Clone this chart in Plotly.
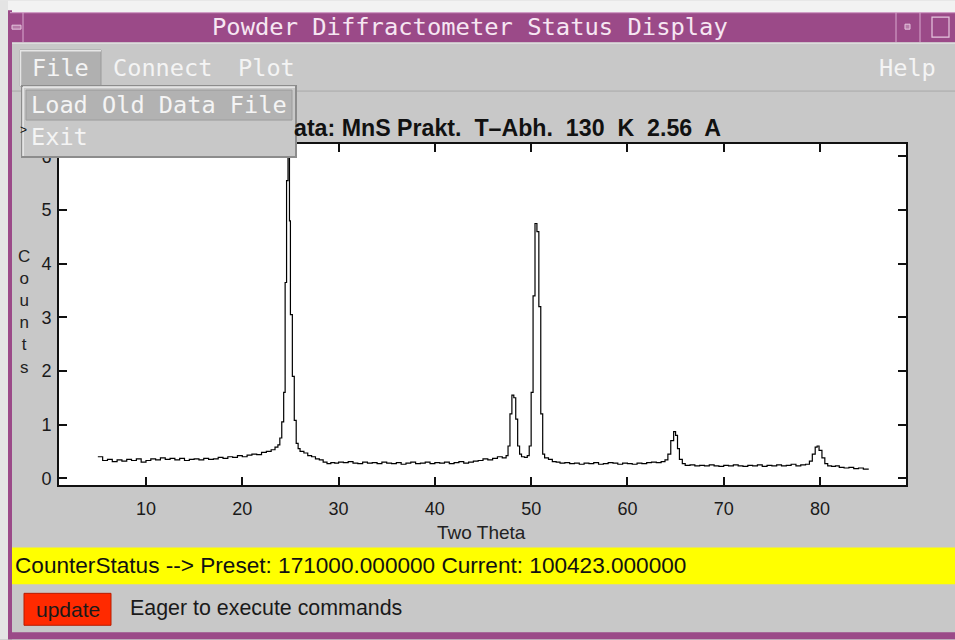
import plotly.graph_objects as go

# ---------------- data ----------------
two_theta = [
    5.0, 5.5, 6.0, 6.5, 7.0, 7.5, 8.0, 8.5, 9.0, 9.5,
    10.0, 10.5, 11.0, 11.5, 12.0, 12.5, 13.0, 13.5, 14.0, 14.5,
    15.0, 15.5, 16.0, 16.5, 17.0, 17.5, 18.0, 18.5, 19.0, 19.5,
    20.0, 20.5, 21.0, 21.5, 22.0, 22.5, 23.0, 23.4, 23.7, 23.9,
    24.1, 24.3, 24.45, 24.6, 24.75, 24.9, 25.0, 25.2, 25.4, 25.6,
    25.8, 26.0, 26.4, 26.8, 27.2, 27.6, 28.0, 28.4, 28.8, 29.2,
    29.6, 30.0, 30.5, 31.0, 31.5, 32.0, 32.5, 33.0, 33.5, 34.0,
    34.5, 35.0, 35.5, 36.0, 36.5, 37.0, 37.5, 38.0, 38.5, 39.0,
    39.5, 40.0, 40.5, 41.0, 41.5, 42.0, 42.5, 43.0, 43.5, 44.0,
    44.5, 45.0, 45.5, 46.0, 46.5, 47.0, 47.4, 47.6, 47.8, 48.0,
    48.2, 48.4, 48.6, 48.8, 49.0, 49.3, 49.6, 49.8, 50.0, 50.2,
    50.4, 50.6, 50.8, 51.0, 51.2, 51.4, 51.8, 52.2, 52.6, 53.0,
    53.5, 54.0, 54.5, 55.0, 55.5, 56.0, 56.5, 57.0, 57.5, 58.0,
    58.5, 59.0, 59.5, 60.0, 60.5, 61.0, 61.5, 62.0, 62.5, 63.0,
    63.5, 63.9, 64.2, 64.5, 64.8, 65.0, 65.2, 65.4, 65.7, 66.0,
    66.5, 67.0, 67.5, 68.0, 68.5, 69.0, 69.5, 70.0, 70.5, 71.0,
    71.5, 72.0, 72.5, 73.0, 73.5, 74.0, 74.5, 75.0, 75.5, 76.0,
    76.5, 77.0, 77.5, 78.0, 78.5, 78.9, 79.2, 79.5, 79.7, 79.9,
    80.2, 80.5, 80.8, 81.2, 81.6, 82.0, 82.5, 83.0, 83.5, 84.0,
    84.5, 85.0,
]
counts = [
    0.40, 0.33, 0.35, 0.31, 0.34, 0.32, 0.35, 0.33, 0.36, 0.30,
    0.33, 0.36, 0.34, 0.38, 0.35, 0.37, 0.34, 0.37, 0.33, 0.35,
    0.36, 0.34, 0.37, 0.35, 0.36, 0.39, 0.37, 0.40, 0.39, 0.42,
    0.40, 0.43, 0.45, 0.44, 0.48, 0.50, 0.53, 0.58, 0.62, 0.75,
    1.05, 1.60, 3.65, 5.55, 6.00, 4.80, 3.05, 1.90, 1.08, 0.65,
    0.55, 0.50, 0.47, 0.42, 0.40, 0.36, 0.34, 0.30, 0.27, 0.29,
    0.28, 0.30, 0.29, 0.31, 0.28, 0.27, 0.30, 0.28, 0.29, 0.27,
    0.30, 0.28, 0.27, 0.29, 0.26, 0.28, 0.30, 0.27, 0.28, 0.30,
    0.27, 0.29, 0.28, 0.30, 0.27, 0.29, 0.31, 0.28, 0.30, 0.32,
    0.33, 0.36, 0.34, 0.37, 0.40, 0.38, 0.42, 0.60, 1.20, 1.55,
    1.50, 1.10, 0.60, 0.45, 0.40, 0.39, 0.42, 0.60, 1.60, 3.40,
    4.75, 4.60, 3.20, 1.20, 0.45, 0.38, 0.35, 0.31, 0.30, 0.28,
    0.29, 0.27, 0.28, 0.26, 0.28, 0.27, 0.29, 0.26, 0.27, 0.29,
    0.28, 0.26, 0.28, 0.27, 0.26, 0.28, 0.27, 0.29, 0.30, 0.29,
    0.31, 0.34, 0.45, 0.70, 0.87, 0.80, 0.55, 0.35, 0.27, 0.24,
    0.25, 0.23, 0.24, 0.23, 0.25, 0.23, 0.22, 0.24, 0.23, 0.25,
    0.23, 0.22, 0.24, 0.23, 0.25, 0.22, 0.24, 0.23, 0.25, 0.23,
    0.24, 0.26, 0.23, 0.25, 0.26, 0.32, 0.45, 0.58, 0.60, 0.52,
    0.38, 0.27, 0.23, 0.22, 0.23, 0.20, 0.19, 0.20, 0.18, 0.19,
    0.17, 0.18,
]
x_ticks = [10, 20, 30, 40, 50, 60, 70, 80]
y_ticks = [0, 1, 2, 3, 4, 5, 6]

window_title = "Powder Diffractometer Status Display"
menu_items = ["File", "Connect", "Plot"]
help_item = "Help"
dropdown_items = ["Load Old Data File", "Exit"]
plot_title = "ata: MnS Prakt.\u00a0 T\u2013Abh.\u00a0 130\u00a0 K\u00a0 2.56\u00a0 A"
y_title_letters = list("Counts")
x_title = "Two Theta"
status_text = "CounterStatus --> Preset: 171000.000000 Current: 100423.000000"
button_text = "update"
message_text = "Eager to execute commands"

# ---------------- geometry helpers (pixels -> paper) ----------------
W, H = 955, 640
PL, PR, PT, PB = 59, 906, 144, 485.5


def px(x):
    return (x - PL) / (PR - PL)


def py(y):
    return (PB - y) / (PB - PT)


GRAY = "#c8c8c8"
PURPLE = "#9b4a88"
MONO = "DejaVu Sans Mono"
SANS = "Liberation Sans"

fig = go.Figure()
fig.add_trace(go.Scatter(
    x=two_theta, y=counts, mode="lines",
    line=dict(color="black", width=1.2, shape="hv"),
    hoverinfo="skip", showlegend=False,
))

shapes = []


def rect(x0, y0, x1, y1, fill, line_color=None, lw=0, layer="above"):
    shapes.append(dict(
        type="rect", xref="paper", yref="paper",
        x0=px(x0), x1=px(x1), y0=py(y1), y1=py(y0),
        fillcolor=fill, layer=layer,
        line=dict(width=lw, color=line_color or fill),
    ))


def hline(x0, x1, y, color, lw=1):
    shapes.append(dict(type="line", xref="paper", yref="paper",
                       x0=px(x0), x1=px(x1), y0=py(y), y1=py(y),
                       line=dict(color=color, width=lw), layer="above"))


def vline(x, y0, y1, color, lw=1):
    shapes.append(dict(type="line", xref="paper", yref="paper",
                       x0=px(x), x1=px(x), y0=py(y0), y1=py(y1),
                       line=dict(color=color, width=lw), layer="above"))


# window frame
rect(0, 0, 955, 12, "#f2f2f2", layer="below")
rect(0, 0, 8, 640, "#e4e4e4", layer="below")
rect(8, 10, 12, 640, PURPLE, layer="below")
rect(8, 633, 955, 640, PURPLE, layer="below")
# title bar
rect(10, 12, 955, 42, PURPLE, layer="below")
hline(10, 955, 12.5, "#d9a9cf")
vline(23, 12, 42, "#d9a9cf")
vline(896, 12, 42, "#d9a9cf")
vline(920, 12, 42, "#d9a9cf")
rect(12, 25, 21, 29, "#b77aa8", "#e6c6de", 1)
rect(905, 24, 910, 29, "#b77aa8", "#e6c6de", 1)
rect(932, 17, 949, 37, PURPLE, "#e6c6de", 1.2)
# menubar
hline(12, 955, 43, "#e8e8e8")
hline(12, 955, 91, "#a8a8a8")
rect(20, 50, 101, 86, "#b0b0b0", "#9a9a9a", 1)
hline(20, 101, 50.5, "#e6e6e6", 1.5)
vline(20.5, 50, 86, "#e6e6e6", 1.5)
# dropdown menu
rect(22, 86, 296, 157, GRAY, "#8c8c8c", 2)
hline(23, 295, 87, "#eeeeee", 1.5)
vline(23, 87, 156, "#eeeeee", 1.5)
rect(26, 90, 292, 120, "#b2b2b2", "#9c9c9c", 1)
# status bar
rect(12, 548, 955, 585, "#ffff00", layer="below")
# update button
rect(24, 594, 111, 626, "#ff2a00", "#b81c00", 1)

ann = []


def text(x, y, s, size, color="#111111", family=SANS, xanchor="left", yanchor="middle"):
    ann.append(dict(xref="paper", yref="paper", x=px(x), y=py(y), text=s,
                    showarrow=False, xanchor=xanchor, yanchor=yanchor,
                    font=dict(family=family, size=size, color=color)))


text(470, 27, window_title, 23.8, "#f6e6f2", MONO, "center")
text(30, 68, menu_items[0], 23.6, "#f4f4f4", MONO)
text(111, 68, menu_items[1], 23.6, "#f4f4f4", MONO)
text(236, 68, menu_items[2], 23.6, "#f4f4f4", MONO)
text(938, 68, help_item, 23.6, "#f4f4f4", MONO, "right")
text(29, 105, dropdown_items[0], 23.6, "#f4f4f4", MONO)
text(29, 137, dropdown_items[1], 23.6, "#f4f4f4", MONO)
text(18, 130, ">", 12, "#111111")
text(292, 128, "<b>" + plot_title + "</b>", 23.2, "#111111")
text(24, 312, "<br>".join(y_title_letters), 17, "#222222", SANS, "center")
text(481.5, 533, x_title, 19, "#222222", SANS, "center")
text(13, 566, status_text, 22.6, "#111111")
text(67.5, 610, button_text, 21, "#1a1a1a", SANS, "center")
text(128, 609, message_text, 21.4, "#1a1a1a")

axis_common = dict(
    ticks="inside", ticklen=8, tickwidth=1.5, tickcolor="#111111",
    showline=True, linewidth=2, linecolor="#111111", mirror="ticks",
    showgrid=False, zeroline=False,
    tickfont=dict(family=SANS, size=18, color="#1a1a1a"),
)

fig.update_layout(
    width=W, height=H, autosize=False,
    margin=dict(l=PL, r=W - PR, t=PT, b=H - PB, pad=0),
    paper_bgcolor=GRAY, plot_bgcolor="white",
    xaxis=dict(range=[0.966, 88.93], tickvals=x_ticks, ticklabelstandoff=6, **axis_common),
    yaxis=dict(range=[-0.127, 6.233], tickvals=y_ticks, ticklabelstandoff=2, **axis_common),
    shapes=shapes, annotations=ann, showlegend=False, hovermode=False,
)

fig.write_html("out.html", config={"displayModeBar": False})
